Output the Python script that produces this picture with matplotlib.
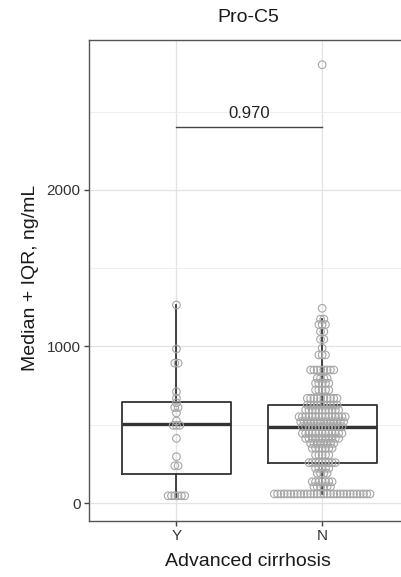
import numpy as np
import matplotlib
matplotlib.use("Agg")
import matplotlib.pyplot as plt
from matplotlib.ticker import FixedLocator

plt.rcParams['font.family'] = ['Liberation Sans', 'DejaVu Sans']

# Pro-C5 by advanced cirrhosis status
groups = ["Y", "N"]

# Y group: individual values (ng/mL)
y_values = [40, 42, 45, 48, 50, 52, 232, 244, 296, 413, 482, 500, 510, 524,
            575, 605, 615, 640, 670, 711, 890, 897, 984, 1265]

# N group: stacked dot rows (value, number of patients)
n_levels = [58, 104, 136, 190, 222, 258, 307, 350, 381, 413, 445, 488, 519,
            551, 594, 626, 669, 722, 765, 797, 850, 946, 990, 1046, 1095,
            1140, 1175, 1244, 2800]
n_counts = [30, 6, 7, 4, 5, 9, 5, 7, 8, 11, 13, 13, 14,
            15, 11, 10, 10, 5, 5, 4, 8, 3, 1, 2, 2,
            3, 2, 1, 1]

p_label = "0.970"
bracket_y = 2400

n_values = np.repeat(n_levels, n_counts)
data = [np.array(y_values, dtype=float), n_values.astype(float)]
positions = [1, 2]


def dot_bins(values, binwidth):
    # greedy dot-density binning along the value axis
    vals = np.sort(values)
    bins = []
    i = 0
    while i < len(vals):
        j = i
        while j + 1 < len(vals) and vals[j + 1] - vals[i] < binwidth:
            j += 1
        bins.append(((vals[i] + vals[j]) / 2, j - i + 1))
        i = j + 1
    return bins


fig = plt.figure(figsize=(4.02, 5.77), dpi=100)
ax = fig.add_axes([89 / 402, 56.3 / 577, 320.6 / 402, 480.7 / 577])

ax.set_xlim(0.4, 2.6)
ax.set_ylim(-113, 2958)

# panel grid
ax.set_axisbelow(True)
ax.yaxis.set_major_locator(FixedLocator([0, 1000, 2000]))
ax.yaxis.set_minor_locator(FixedLocator([500, 1500, 2500]))
ax.grid(True, which='major', color='#e3e3e3', linewidth=0.9)
ax.grid(True, which='minor', axis='y', color='#ececec', linewidth=0.6)
ax.tick_params(which='minor', left=False)

line_c = '#333333'
ax.boxplot(data, positions=positions, widths=0.75, showfliers=False,
           showcaps=False, whis=1.5,
           boxprops=dict(color=line_c, linewidth=1.3),
           whiskerprops=dict(color=line_c, linewidth=1.3),
           medianprops=dict(color=line_c, linewidth=2.4),
           zorder=2)

# centred dot stacks
dx = 3.3 / 145.7
for pos, vals in zip(positions, data):
    xs, ys = [], []
    for center, k in dot_bins(vals, 30):
        offs = (np.arange(k) - (k - 1) / 2) * dx
        xs.extend(pos + offs)
        ys.extend([center] * k)
    ax.scatter(xs, ys, s=30, facecolors='none', edgecolors='#a6a6a6',
               linewidths=0.8, zorder=3)

# comparison bracket
ax.plot([1, 2], [bracket_y, bracket_y], color='#444444', linewidth=1.0, zorder=4)
ax.text(1.5, bracket_y + 40, p_label, ha='center', va='bottom',
        fontsize=12, color='#222222')

ax.set_xticks(positions)
ax.set_xticklabels(groups)
ax.tick_params(axis='both', which='major', length=3.5, width=1.0,
               color='#444444', labelsize=11, labelcolor='#333333', pad=2.5)

for side in ['left', 'bottom', 'top', 'right']:
    ax.spines[side].set_color('#555555')
    ax.spines[side].set_linewidth(1.0)

fig.text(248 / 402, 1 - 18 / 577, "Pro-C5", ha='center', va='center',
         fontsize=14, color='#1a1a1a')
fig.text(31 / 402, 1 - 278 / 577, "Median + IQR, ng/mL", ha='center',
         va='center', rotation=90, fontsize=14, color='#1a1a1a')
fig.text(248 / 402, 1 - 561 / 577, "Advanced cirrhosis", ha='center',
         va='center', fontsize=14, color='#1a1a1a')

fig.savefig("out.png", dpi=100)
